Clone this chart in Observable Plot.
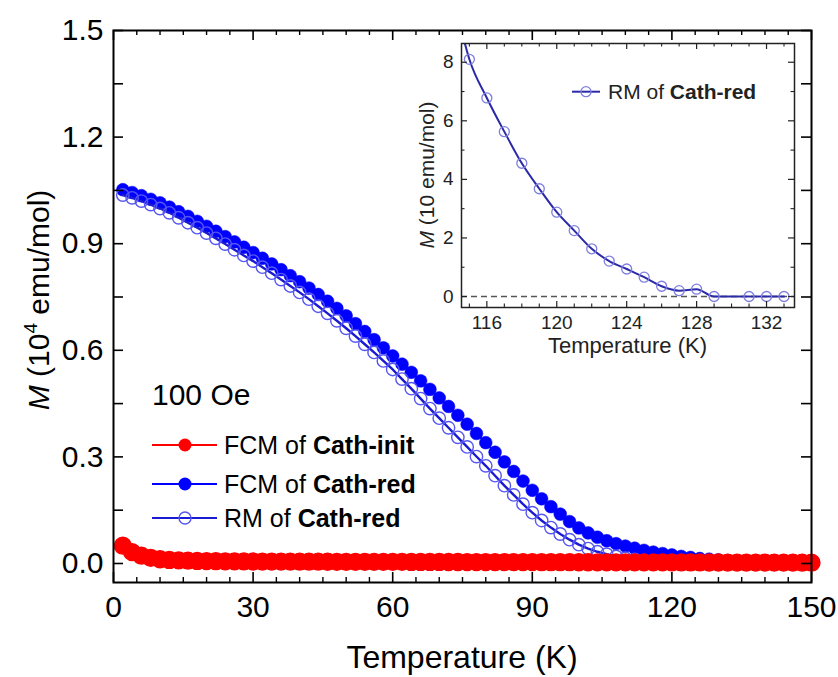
<!DOCTYPE html>
<html><head><meta charset="utf-8">
<script src="https://cdn.jsdelivr.net/npm/d3@7"></script>
<script src="https://cdn.jsdelivr.net/npm/@observablehq/plot@0.6"></script>
<style>
body{margin:0;background:#fff;}
#wrap{position:relative;width:838px;height:677px;}
#wrap svg{display:block;}
#insetBox{position:absolute;left:410px;top:35px;}
</style></head><body><div id="wrap"><div id="mainBox"></div><div id="insetBox"></div></div>
<script>
// ---------- data ----------
const temperatureK = [2,4,6,8,10,12,14,16,18,20,22,24,26,28,30,32,34,36,38,40,42,44,46,48,50,52,54,56,58,60,62,64,66,68,70,72,74,76,78,80,82,84,86,88,90,92,94,96,98,100,102,104,106,108,110,112,114,116,118,120,122,124,126,128,130,132,134,136,138,140,142,144,146,148,150];
// M in 10^4 emu/mol
const fcmCathInit = [0.050,0.032,0.022,0.016,0.012,0.010,0.0088,0.0078,0.0072,0.0068,0.0065,0.0062,0.0060,0.0058,0.0056,0.0055,0.0054,0.0053,0.0052,0.0051,0.0050,0.0050,0.0049,0.0048,0.0048,0.0047,0.0047,0.0046,0.0046,0.0045,0.0045,0.0044,0.0044,0.0043,0.0043,0.0042,0.0042,0.0041,0.0041,0.0040,0.0040,0.0039,0.0039,0.0038,0.0038,0.0037,0.0037,0.0036,0.0036,0.0035,0.0035,0.0034,0.0034,0.0033,0.0033,0.0032,0.0032,0.0031,0.0031,0.0030,0.0030,0.0029,0.0029,0.0028,0.0028,0.0027,0.0027,0.0026,0.0026,0.0025,0.0025,0.0024,0.0024,0.0023,0.0023];
const fcmCathRed = [1.052,1.044,1.035,1.025,1.015,1.003,0.990,0.977,0.963,0.949,0.935,0.920,0.905,0.890,0.875,0.859,0.843,0.827,0.810,0.793,0.775,0.757,0.738,0.718,0.697,0.675,0.653,0.630,0.607,0.584,0.561,0.538,0.514,0.490,0.466,0.442,0.417,0.392,0.366,0.340,0.313,0.286,0.259,0.232,0.206,0.182,0.160,0.139,0.118,0.100,0.086,0.074,0.064,0.056,0.049,0.043,0.037,0.032,0.028,0.024,0.020,0.017,0.014,0.012,0.010,0.008,0.007,0.006,0.005,0.004,0.004,0.003,0.003,0.002,0.002];
const rmCathRed = [1.037,1.029,1.020,1.010,0.999,0.987,0.973,0.959,0.945,0.930,0.915,0.899,0.883,0.867,0.851,0.834,0.817,0.799,0.781,0.763,0.744,0.724,0.704,0.683,0.662,0.640,0.617,0.594,0.570,0.546,0.519,0.492,0.464,0.436,0.409,0.382,0.355,0.328,0.301,0.275,0.247,0.219,0.193,0.167,0.143,0.121,0.101,0.083,0.067,0.053,0.042,0.033,0.026,0.020,0.015,0.0115,0.0088,0.0068,0.0045,0.0029,0.0016,0.0009,0.0004,0.0002,0,0,0,0,0,0,0,0,0,0,0];

// inset: RM of Cath-red, M in 10 emu/mol
const insetT = [115,116,117,118,119,120,121,122,123,124,125,126,127,128,129,131,132,133];
const insetM = [8.1,6.78,5.63,4.55,3.68,2.88,2.25,1.63,1.21,0.94,0.66,0.35,0.2,0.25,0,0,0,0];
const insetLineT = [114.5,115,116,117,118,119,120,121,122,123,124,125,126,127,128,129,130,131,132,133];
const insetLineM = [9.2,8.1,6.78,5.63,4.55,3.68,2.88,2.25,1.63,1.21,0.94,0.66,0.35,0.2,0.25,0,0,0,0,0];

// ticks
const mainXLabels = [0,30,60,90,120,150];
const mainXMinor = [5,10,15,20,25,35,40,45,50,55,65,70,75,80,85,95,100,105,110,115,125,130,135,140,145];
const mainYLabels = [0,0.3,0.6,0.9,1.2,1.5];
const mainYTicks = [0,0.15,0.3,0.45,0.6,0.75,0.9,1.05,1.2,1.35,1.5];
const insetXLabels = [116,120,124,128,132];
const insetXMinor = [115,117,118,119,121,122,123,125,126,127,129,130,131,133];
const insetYLabels = [0,2,4,6,8];
const insetYMinor = [1,3,5,7];

const legendNames = ["Cath-init","Cath-red","Cath-red"];
const legendPrefix = ["FCM of ","FCM of ","RM of "];

// ---------- build ----------
const FONT = "'Liberation Sans', Arial, Helvetica, sans-serif";
const RED = "#ff0000", BLUE = "#0000ff", OPEN = "#5656f2", RMLINE = "#1a1ad2";

const rows = (ys) => temperatureK.map((t,i)=>({T:t, M:ys[i]}));
const initData = rows(fcmCathInit), fcmData = rows(fcmCathRed), rmData = rows(rmCathRed);

const W=838,H=677,mL=113,mR=27,mT=30,mB=95;
const iw=W-mL-mR, ih=H-mT-mB;

const main = Plot.plot({
  width:W,height:H,marginLeft:mL,marginRight:mR,marginTop:mT,marginBottom:mB,
  style:{fontFamily:FONT,fontSize:"30px",color:"black",background:"white",overflow:"visible"},
  x:{domain:[0,150]},
  y:{domain:[-0.0535,1.5]},
  marks:[
    Plot.line(fcmData,{x:"T",y:"M",stroke:BLUE,strokeWidth:2}),
    Plot.dot(fcmData,{x:"T",y:"M",r:6.4,fill:BLUE,stroke:BLUE,strokeWidth:0.5}),
    Plot.line(rmData,{x:"T",y:"M",stroke:RMLINE,strokeWidth:2.4}),
    Plot.dot(rmData,{x:"T",y:"M",r:6.2,fill:"none",stroke:OPEN,strokeWidth:1.4}),
    Plot.line(initData,{x:"T",y:"M",stroke:RED,strokeWidth:2}),
    Plot.dot(initData,{x:"T",y:"M",r:8.4,fill:RED,stroke:RED}),
    // inward ticks
    Plot.tickX(mainXLabels,{x:d=>d,insetTop:ih-10,stroke:"black",strokeWidth:1.6}),
    Plot.tickX(mainXMinor,{x:d=>d,insetTop:ih-5,stroke:"black",strokeWidth:1.4}),
    Plot.tickX(mainXLabels,{x:d=>d,insetBottom:ih-10,stroke:"black",strokeWidth:1.6}),
    Plot.tickX(mainXMinor,{x:d=>d,insetBottom:ih-5,stroke:"black",strokeWidth:1.4}),
    Plot.tickY(mainYTicks,{y:d=>d,insetRight:iw-10,stroke:"black",strokeWidth:1.6}),
    Plot.tickY(mainYTicks,{y:d=>d,insetLeft:iw-10,stroke:"black",strokeWidth:1.6}),
    Plot.axisX({ticks:mainXLabels,tickSize:0,tickPadding:13,fontSize:30,label:null}),
    Plot.axisY({ticks:mainYLabels,tickSize:0,tickPadding:10,fontSize:30,tickFormat:d3.format(".1f"),label:null}),
    Plot.frame({stroke:"black",strokeWidth:2})
  ]
});
document.getElementById("mainBox").appendChild(main);

const ms = d3.select(main);
// axis titles
ms.append("text").attr("x",mL+iw/2).attr("y",657).attr("dy","0.35em")
  .attr("text-anchor","middle").attr("font-size",32).attr("fill","black").text("Temperature (K)");
const yl = ms.append("text").attr("transform",`translate(38,${mT+ih/2-6}) rotate(-90)`)
  .attr("text-anchor","middle").attr("dy","0.35em").attr("font-size",30).attr("fill","black");
yl.append("tspan").attr("font-style","italic").text("M");
yl.append("tspan").text(" (10");
yl.append("tspan").attr("font-size",19).attr("dy",-12).text("4");
yl.append("tspan").attr("dy",12).text(" emu/mol)");
// 100 Oe
ms.append("text").attr("x",152).attr("y",394).attr("dy","0.35em").attr("text-anchor","start")
  .attr("font-size",30).attr("fill","black").text("100 Oe");
// legend
const legY=[445,484,518];
const legColor=[RED,BLUE,RMLINE];
legY.forEach((y,i)=>{
  const g = ms.append("g");
  g.append("line").attr("x1",152).attr("x2",217).attr("y1",y).attr("y2",y).attr("stroke",legColor[i]).attr("stroke-width",2);
  if(i===2) g.append("circle").attr("cx",185).attr("cy",y).attr("r",6).attr("fill","none").attr("stroke",OPEN).attr("stroke-width",1.4);
  else g.append("circle").attr("cx",185).attr("cy",y).attr("r",6.5).attr("fill",legColor[i]);
  const t = g.append("text").attr("x",224).attr("y",y).attr("dy","0.35em").attr("text-anchor","start")
    .attr("font-size",25).attr("fill","black");
  t.append("tspan").text(legendPrefix[i]);
  t.append("tspan").attr("font-weight","bold").text(legendNames[i]);
});

// ---------- inset ----------
const IW=400,IH=330,iL=51,iR=16,iT=8,iB=58;
const iiw=IW-iL-iR, iih=IH-iT-iB;
const IC="#2a2aa8", ICIRC="#7f7fe0", IAX="#222";
const insetPts = insetT.map((t,i)=>({T:t,M:insetM[i]}));
const insetLine = insetLineT.map((t,i)=>({T:t,M:insetLineM[i]}));
const inset = Plot.plot({
  width:IW,height:IH,marginLeft:iL,marginRight:iR,marginTop:iT,marginBottom:iB,
  style:{fontFamily:FONT,fontSize:"19px",color:IAX,background:"transparent",overflow:"visible"},
  x:{domain:[114.55,133.6]},
  y:{domain:[-0.375,8.64]},
  marks:[
    Plot.frame({fill:"white",stroke:null}),
    Plot.ruleY([0],{stroke:"#555",strokeWidth:1.6,strokeDasharray:"6,4"}),
    Plot.line(insetLine,{x:"T",y:"M",stroke:IC,strokeWidth:2,curve:"monotone-x",clip:true}),
    Plot.dot(insetPts,{x:"T",y:"M",r:5,fill:"none",stroke:ICIRC,strokeWidth:1.3}),
    Plot.tickX(insetXLabels,{x:d=>d,insetTop:iih-6,stroke:IAX,strokeWidth:1.2}),
    Plot.tickX(insetXMinor,{x:d=>d,insetTop:iih-3.5,stroke:IAX,strokeWidth:1.1}),
    Plot.tickX(insetXLabels,{x:d=>d,insetBottom:iih-6,stroke:IAX,strokeWidth:1.2}),
    Plot.tickX(insetXMinor,{x:d=>d,insetBottom:iih-3.5,stroke:IAX,strokeWidth:1.1}),
    Plot.tickY(insetYLabels,{y:d=>d,insetRight:iiw-6,stroke:IAX,strokeWidth:1.2}),
    Plot.tickY(insetYMinor,{y:d=>d,insetRight:iiw-3.5,stroke:IAX,strokeWidth:1.1}),
    Plot.tickY(insetYLabels,{y:d=>d,insetLeft:iiw-6,stroke:IAX,strokeWidth:1.2}),
    Plot.tickY(insetYMinor,{y:d=>d,insetLeft:iiw-3.5,stroke:IAX,strokeWidth:1.1}),
    Plot.axisX({ticks:insetXLabels,tickSize:0,tickPadding:8,fontSize:19,label:null}),
    Plot.axisY({ticks:insetYLabels,tickSize:0,tickPadding:8,fontSize:19,label:null}),
    Plot.frame({stroke:IAX,strokeWidth:1.5})
  ]
});
document.getElementById("insetBox").appendChild(inset);
const is = d3.select(inset);
is.append("text").attr("x",iL+iiw/2).attr("y",310).attr("dy","0.35em")
  .attr("text-anchor","middle").attr("font-size",22).attr("fill",IAX).text("Temperature (K)");
const iyl = is.append("text").attr("transform",`translate(17,${iT+iih/2}) rotate(-90)`)
  .attr("text-anchor","middle").attr("dy","0.35em").attr("font-size",21).attr("fill",IAX);
iyl.append("tspan").attr("font-style","italic").text("M");
iyl.append("tspan").text(" (10 emu/mol)");
const ig = is.append("g");
ig.append("line").attr("x1",162).attr("x2",190).attr("y1",56.7).attr("y2",56.7).attr("stroke",IC).attr("stroke-width",2);
ig.append("circle").attr("cx",176).attr("cy",56.7).attr("r",5).attr("fill","none").attr("stroke",ICIRC).attr("stroke-width",1.3);
const it = ig.append("text").attr("x",198).attr("y",56.7).attr("dy","0.35em").attr("text-anchor","start")
  .attr("font-size",21).attr("fill",IAX);
it.append("tspan").text("RM of ");
it.append("tspan").attr("font-weight","bold").text("Cath-red");
</script>
</body></html>
